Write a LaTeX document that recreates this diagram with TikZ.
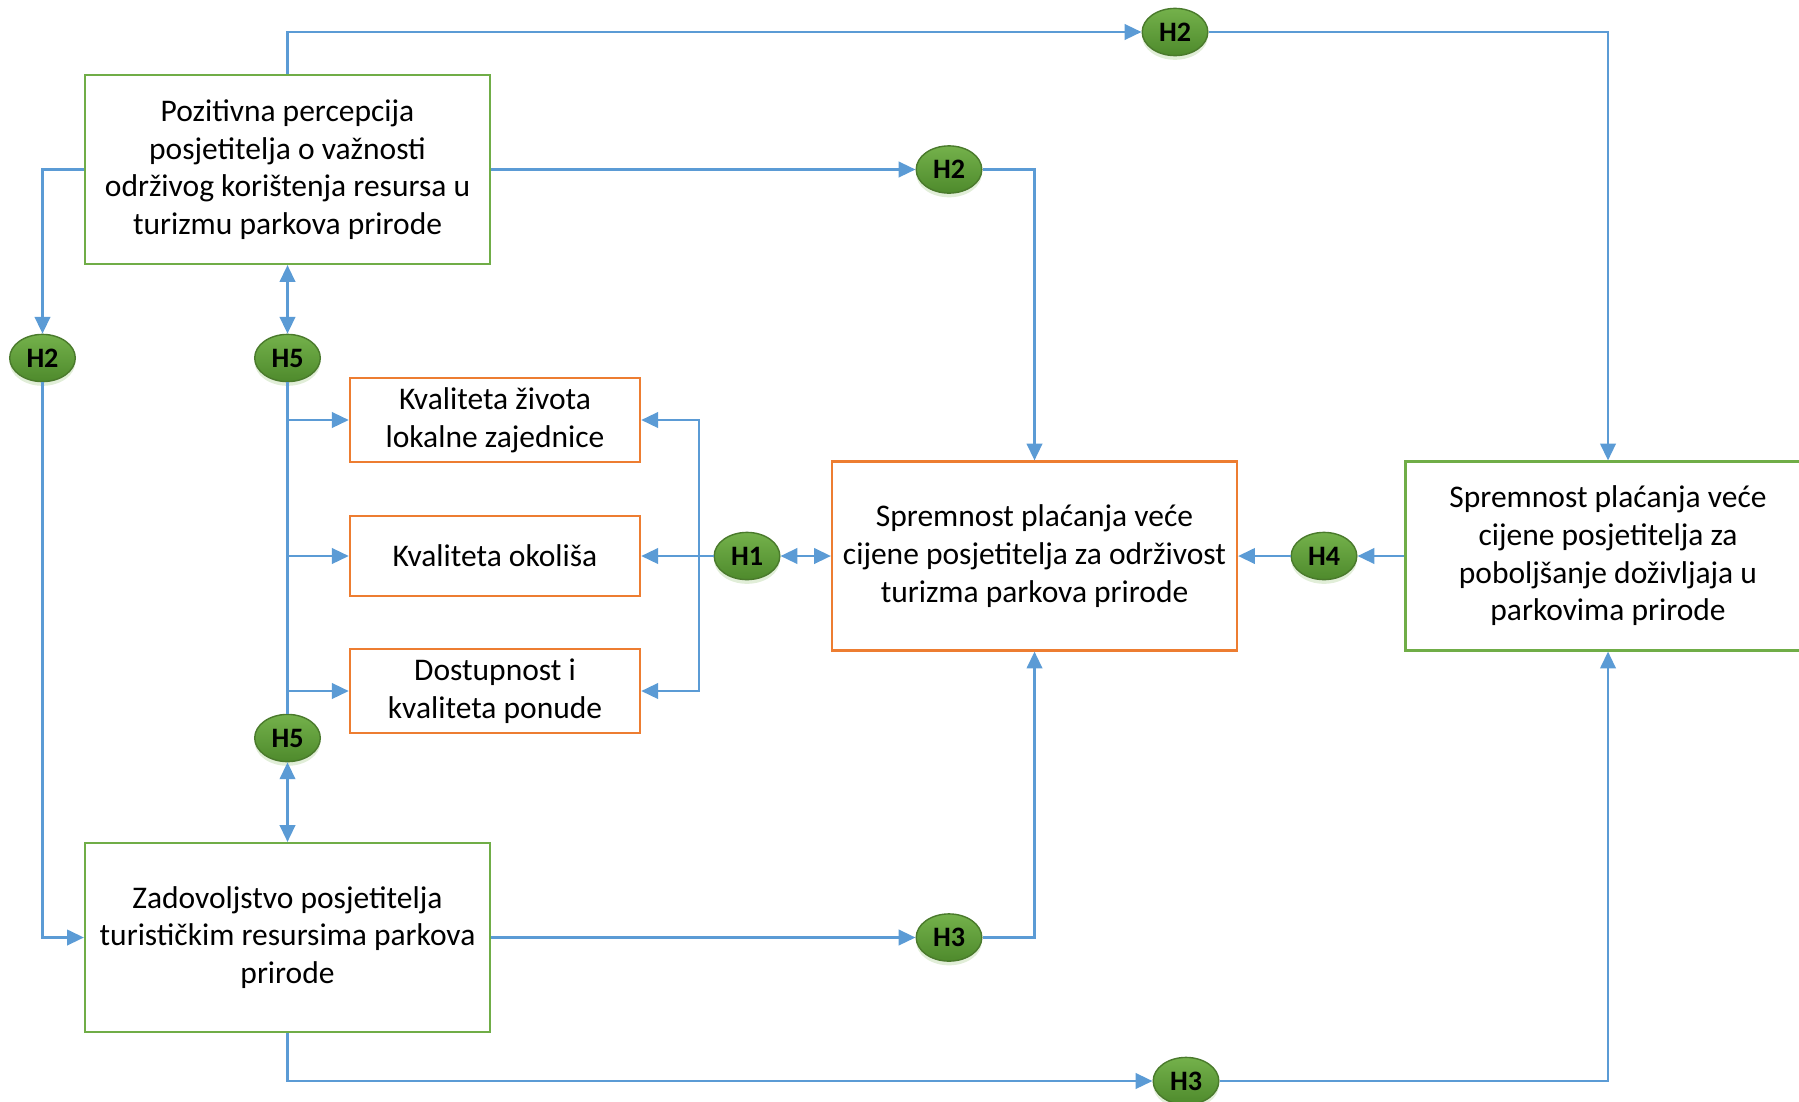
\documentclass[tikz,border=0pt]{standalone}
\usepackage{fontspec}
\setmainfont{Carlito}
\usepackage{tikz}
\usetikzlibrary{positioning, calc, arrows.meta, shapes.geometric, shadows}
\definecolor{linkcolor}{HTML}{5B9BD5}
\definecolor{greenbox}{HTML}{70AD47}
\definecolor{orangebox}{HTML}{ED7D31}
\definecolor{hyptop}{HTML}{74B14B}
\definecolor{hypbot}{HTML}{4E8A2C}
\definecolor{hypedge}{HTML}{4A7A2C}

\begin{document}
\begin{tikzpicture}[
  x=0.0125cm, y=-0.0125cm,
  bigbox/.style={draw=#1, line width=0.8pt, fill=white, minimum width=5.06cm,
    minimum height=2.36cm, align=center, font=\fontsize{11.2}{13.4}\selectfont},
  smallbox/.style={draw=orangebox, line width=0.7pt, fill=white, minimum width=3.63cm,
    minimum height=1.01cm, align=center, font=\fontsize{11.2}{13.4}\selectfont},
  hyp/.style={ellipse, draw=hypedge, line width=0.5pt, top color=hyptop, bottom color=hypbot,
    minimum width=0.82cm, minimum height=0.59cm, inner sep=0pt,
    font=\fontsize{10}{10}\selectfont\bfseries,
    drop shadow={shadow xshift=0pt, shadow yshift=-1.5pt, opacity=0.3, fill=greenbox!70}},
  link/.style={line width=0.9pt, draw=linkcolor},
  arr/.style={link, -{Triangle[length=6pt, width=5.5pt]}},
  dbl/.style={link, {Triangle[length=6pt, width=5.5pt]}-{Triangle[length=6pt, width=5.5pt]}},
]
  \useasboundingbox (0,0) rectangle (1799,1101);
  \clip (0,0) rectangle (1799,1101);

  % boxes
  \node[bigbox=greenbox] (perc) at (287.5,169.5) {Pozitivna percepcija\\posjetitelja o važnosti\\održivog korištenja resursa u\\turizmu parkova prirode};
  \node[bigbox=greenbox] (zad) at (287.5,937.5) {Zadovoljstvo posjetitelja\\turističkim resursima parkova\\prirode};
  \node[bigbox=orangebox] (sprem) at (1034.5,556) {Spremnost plaćanja veće\\cijene posjetitelja za održivost\\turizma parkova prirode};
  \node[bigbox=greenbox] (spremdoz) at (1608,556) {Spremnost plaćanja veće\\cijene posjetitelja za\\poboljšanje doživljaja u\\parkovima prirode};
  \node[smallbox] (zivot) at (495,420) {Kvaliteta života\\lokalne zajednice};
  \node[smallbox] (okolis) at (495,556) {Kvaliteta okoliša};
  \node[smallbox] (ponuda) at (495,691) {Dostupnost i\\kvaliteta ponude};

  % hypotheses
  \node[hyp] (h2top) at (1175,32) {H2};
  \node[hyp] (h2mid) at (949,169.5) {H2};
  \node[hyp] (h2left) at (42.5,358) {H2};
  \node[hyp] (h5top) at (287.5,358) {H5};
  \node[hyp] (h5bot) at (287.5,738) {H5};
  \node[hyp] (h1) at (747,556) {H1};
  \node[hyp] (h4) at (1324,556) {H4};
  \node[hyp] (h3mid) at (949,937.5) {H3};
  \node[hyp] (h3bot) at (1186,1081) {H3};
  \coordinate (split) at (699,556);

  % connectors
  \draw[arr] (perc.north) |- (h2top.west);
  \draw[arr] (h2top.east) -| (spremdoz.north);
  \draw[arr] (perc.east) -- (h2mid.west);
  \draw[arr] (h2mid.east) -| (sprem.north);
  \draw[arr] (perc.west) -| (h2left.north);
  \draw[arr] (h2left.south) |- (zad.west);
  \draw[dbl] (perc.south) -- (h5top.north);
  \draw[link] (h5top.south) -- (h5bot.north);
  \foreach \b in {zivot, okolis, ponuda}
    \draw[arr] (h5top.south |- \b.west) -- (\b.west);
  \draw[dbl] (h5bot.south) -- (zad.north);
  \draw[arr] (h1.west) -- (okolis.east);
  \draw[arr] (split) |- (zivot.east);
  \draw[arr] (split) |- (ponuda.east);
  \draw[dbl] (h1.east) -- (sprem.west);
  \draw[arr] (spremdoz.west) -- (h4.east);
  \draw[arr] (h4.west) -- (sprem.east);
  \draw[arr] (zad.east) -- (h3mid.west);
  \draw[arr] (h3mid.east) -| (sprem.south);
  \draw[arr] (zad.south) |- (h3bot.west);
  \draw[arr] (h3bot.east) -| (spremdoz.south);
\end{tikzpicture}
\end{document}
